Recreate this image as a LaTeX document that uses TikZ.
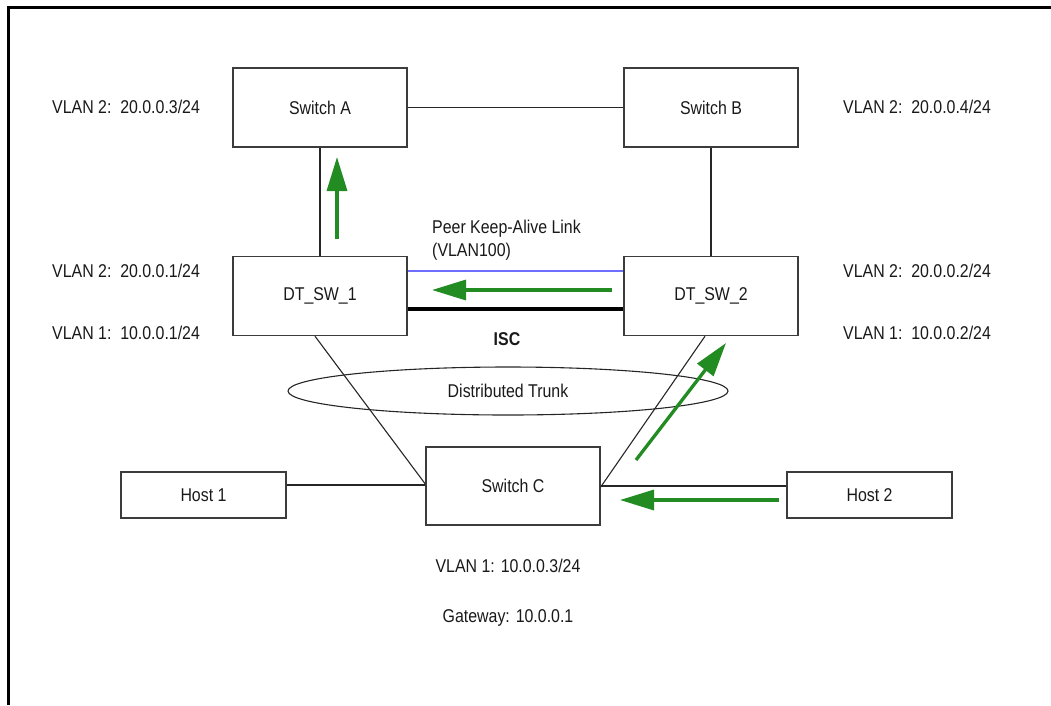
\documentclass[tikz,border=0pt]{standalone}
\usepackage{fontspec}
\setmainfont{Liberation Sans}[FakeStretch=0.86]
\usetikzlibrary{arrows.meta,shapes.geometric,calc}
\definecolor{arrowgreen}{RGB}{34,139,34}
\definecolor{boxline}{RGB}{60,60,60}
\definecolor{kablue}{RGB}{110,110,255}
\tikzset{
  every node/.style={font=\fontsize{18.5}{23}\selectfont, text=black!90},
  devbox/.style={draw=boxline, line width=1.4pt, rectangle, minimum width=174pt, minimum height=79pt, inner sep=0pt},
  hostbox/.style={draw=boxline, line width=1.4pt, rectangle, minimum width=165pt, minimum height=46pt, inner sep=0pt},
  link/.style={draw=black!85, line width=1.1pt},
  flow/.style={draw=arrowgreen, line width=3.3pt, -{Triangle[length=34pt,width=20pt]}},
  lbl/.style={anchor=west, inner sep=0pt}
}
\begin{document}
\begin{tikzpicture}[x=1pt,y=-1pt]
\useasboundingbox (0,0) rectangle (1051,705);
\draw[line width=3pt] (8,705) -- (8,7) -- (1051,7);

\node[devbox] (swa) at (320,107.5) {Switch A};
\node[devbox] (swb) at (711,107.5) {Switch B};
\node[devbox] (dt1) at (320,296) {DT\_SW\_1};
\node[devbox] (dt2) at (711,296) {DT\_SW\_2};
\node[devbox, minimum height=78pt] (swc) at (513,486) {Switch C};
\node[hostbox] (h1) at (203.5,495) {Host 1};
\node[hostbox] (h2) at (869.5,495) {Host 2};

\draw[link] (swa.east) -- (swb.west);
\draw[link] (swa.south) -- (dt1.north);
\draw[link] (swb.south) -- (dt2.north);
\draw[kablue, line width=1.1pt] ([yshift=25pt]dt1.east) -- ([yshift=25pt]dt2.west);
\draw[black, line width=4pt] ([yshift=-13pt]dt1.east) -- ([yshift=-13pt]dt2.west);
\draw[link] ([xshift=-5pt]dt1.south) -- ([yshift=2pt]swc.west);
\draw[link] ([xshift=-6pt]dt2.south) -- ([yshift=-1pt]swc.east);
\draw[link] ([yshift=1pt]swc.west) -- ([yshift=1pt]swc.west -| h1.east);
\draw[link] (swc.east) -- (swc.east -| h2.west);

\node[draw=black!85, line width=1.1pt, ellipse, minimum width=440pt, minimum height=48pt, inner sep=0pt] (dt) at (508,391) {Distributed Trunk};

\node[lbl, align=left, anchor=north west, inner sep=0pt] (pk) at (432,220) {Peer Keep-Alive Link\\(VLAN100)};
\node[font=\fontsize{18.5}{23}\selectfont\bfseries] (isc) at (507,339) {ISC};

\node[lbl] (la) at (52,107) {VLAN 2:\ \ 20.0.0.3/24};
\node[lbl] (l1) at (52,271) {VLAN 2:\ \ 20.0.0.1/24};
\node[lbl] (l1b) at (52,333) {VLAN 1:\ \ 10.0.0.1/24};
\node[lbl] (lb) at (843,107) {VLAN 2:\ \ 20.0.0.4/24};
\node[lbl] (l2) at (843,271) {VLAN 2:\ \ 20.0.0.2/24};
\node[lbl] (l2b) at (843,333) {VLAN 1:\ \ 10.0.0.2/24};
\node (lc) at (508,566) {VLAN 1: 10.0.0.3/24};
\node (gw) at (508,618) {Gateway: 10.0.0.1};

\coordinate (a1s) at (337,239);
\coordinate (a1e) at (337,157);
\coordinate (a2s) at (612,290);
\coordinate (a2e) at (432,290);
\coordinate (a3s) at (636,460);
\coordinate (a3e) at (726,343);
\coordinate (a4s) at (779,500);
\coordinate (a4e) at (620,500);
\draw[flow] (a1s) -- (a1e);
\draw[flow] (a2s) -- (a2e);
\draw[flow] (a3s) -- (a3e);
\draw[flow] (a4s) -- (a4e);
\end{tikzpicture}
\end{document}
